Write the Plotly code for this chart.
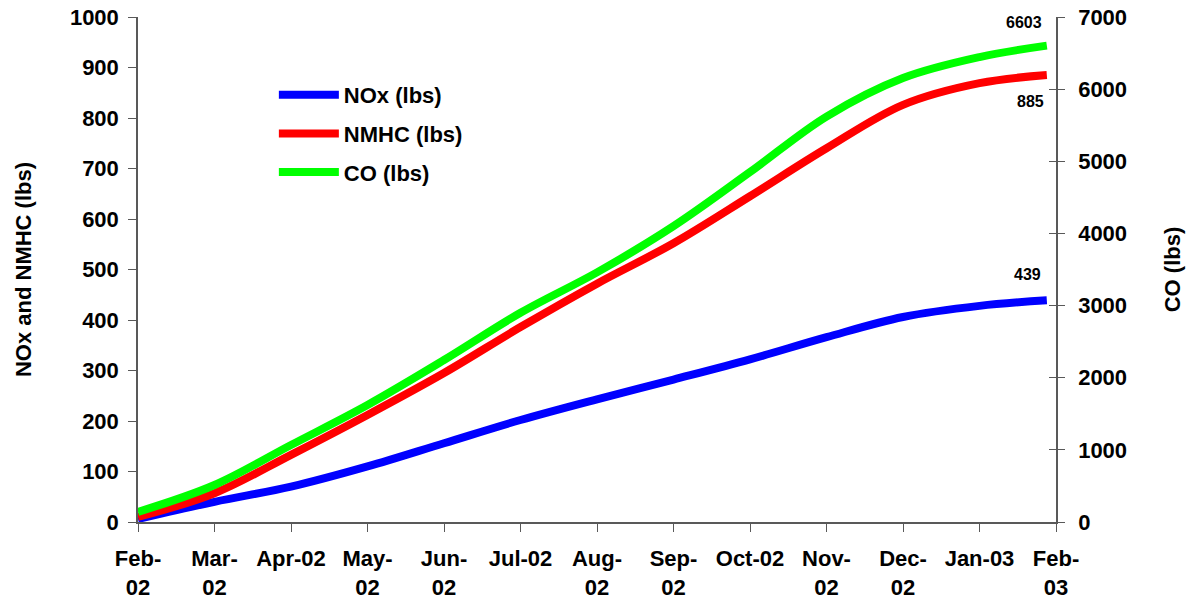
import plotly.graph_objects as go

# Month tick labels (Excel-style wrapping on the long ones)
month_labels = ["Feb-<br>02", "Mar-<br>02", "Apr-02", "May-<br>02", "Jun-<br>02", "Jul-02",
                "Aug-<br>02", "Sep-<br>02", "Oct-02", "Nov-<br>02", "Dec-<br>02", "Jan-03", "Feb-<br>03"]

# Observation positions, in months since Feb-02
obs_month = [0, 1, 2, 3, 4, 5, 6, 7, 8, 9, 10, 11, 11.88]

# Cumulative emissions
nox_lbs = [6, 40, 70, 110, 156, 202, 243, 282, 322, 366, 406, 428, 439]
nmhc_lbs = [10, 57, 133, 212, 295, 386, 472, 552, 645, 740, 826, 869, 885]
co_lbs = [140, 513, 1067, 1622, 2245, 2900, 3460, 4100, 4850, 5620, 6154, 6445, 6603]

FONT = "Liberation Sans, Arial, sans-serif"
AXIS_COLOR = "#595959"

fig = go.Figure()
fig.add_trace(go.Scatter(x=obs_month, y=nox_lbs, name="NOx (lbs)", mode="lines", legendgroup="nox",
                         line=dict(color="#0000ff", width=8, shape="spline"), yaxis="y"))
fig.add_trace(go.Scatter(x=obs_month, y=nmhc_lbs, name="NMHC (lbs)", mode="lines", legendgroup="nmhc",
                         line=dict(color="#ff0000", width=8, shape="spline"), yaxis="y"))
fig.add_trace(go.Scatter(x=obs_month, y=co_lbs, name="CO (lbs)", mode="lines", legendgroup="co",
                         line=dict(color="#00ff00", width=8, shape="spline"), yaxis="y2"))
# Invisible helper so the inner tick marks of the CO axis get drawn
fig.add_trace(go.Scatter(x=[obs_month[0]], y=[co_lbs[0]], mode="lines", showlegend=False,
                         hoverinfo="skip", line=dict(width=0), yaxis="y3"))

# End-of-period value labels
label_font = dict(family=FONT, size=16, color="black", weight="bold")
fig.add_annotation(x=obs_month[-1], y=co_lbs[-1], yref="y2", text=str(co_lbs[-1]),
                   showarrow=False, xshift=-23, yshift=23, font=label_font)
fig.add_annotation(x=obs_month[-1], y=nmhc_lbs[-1], yref="y", text=str(nmhc_lbs[-1]),
                   showarrow=False, xshift=-16, yshift=-26, font=label_font)
fig.add_annotation(x=obs_month[-1], y=nox_lbs[-1], yref="y", text=str(nox_lbs[-1]),
                   showarrow=False, xshift=-19, yshift=26, font=label_font)

tick_font = dict(family=FONT, size=22, color="black", weight="bold")

fig.update_layout(
    width=1197, height=609,
    margin=dict(l=138, r=141, t=17, b=87),
    paper_bgcolor="white", plot_bgcolor="white",
    font=dict(family=FONT, color="black"),
    showlegend=True,
    legend=dict(x=0.148, y=0.887, xanchor="left", yanchor="top",
                bgcolor="rgba(0,0,0,0)", font=dict(family=FONT, size=22, weight="bold"),
                tracegroupgap=7, itemwidth=60),
    xaxis=dict(range=[0, 12], tickmode="array", tickvals=list(range(13)),
               ticktext=month_labels, ticks="outside", ticklen=8, tickcolor=AXIS_COLOR,
               showline=True, linecolor=AXIS_COLOR, linewidth=1.5, showgrid=False,
               zeroline=False, tickfont=tick_font, tickangle=0, automargin=False,
               ticklabelstandoff=8),
    yaxis=dict(range=[0, 1000], dtick=100, ticks="outside", ticklen=8, tickcolor=AXIS_COLOR,
               showline=True, linecolor=AXIS_COLOR, linewidth=1.5, showgrid=False,
               zeroline=False, tickfont=tick_font, automargin=False, ticklabelstandoff=5,
               title=dict(text="NOx and NMHC (lbs)", standoff=32,
                          font=dict(family=FONT, size=22, weight="bold"))),
    yaxis2=dict(range=[0, 7000], dtick=1000, overlaying="y", side="right",
                ticks="outside", ticklen=7, tickcolor=AXIS_COLOR,
                showline=True, linecolor=AXIS_COLOR, linewidth=1.5, showgrid=False,
                zeroline=False, tickfont=tick_font, automargin=False, ticklabelstandoff=9,
                title=dict(text="CO (lbs)", standoff=38,
                           font=dict(family=FONT, size=22, weight="bold"))),
    yaxis3=dict(range=[0, 7000], dtick=1000, overlaying="y", side="right",
                ticks="inside", ticklen=7, tickcolor=AXIS_COLOR, showticklabels=False,
                showline=False, showgrid=False, zeroline=False, automargin=False),
)

fig.write_html("out.html")
